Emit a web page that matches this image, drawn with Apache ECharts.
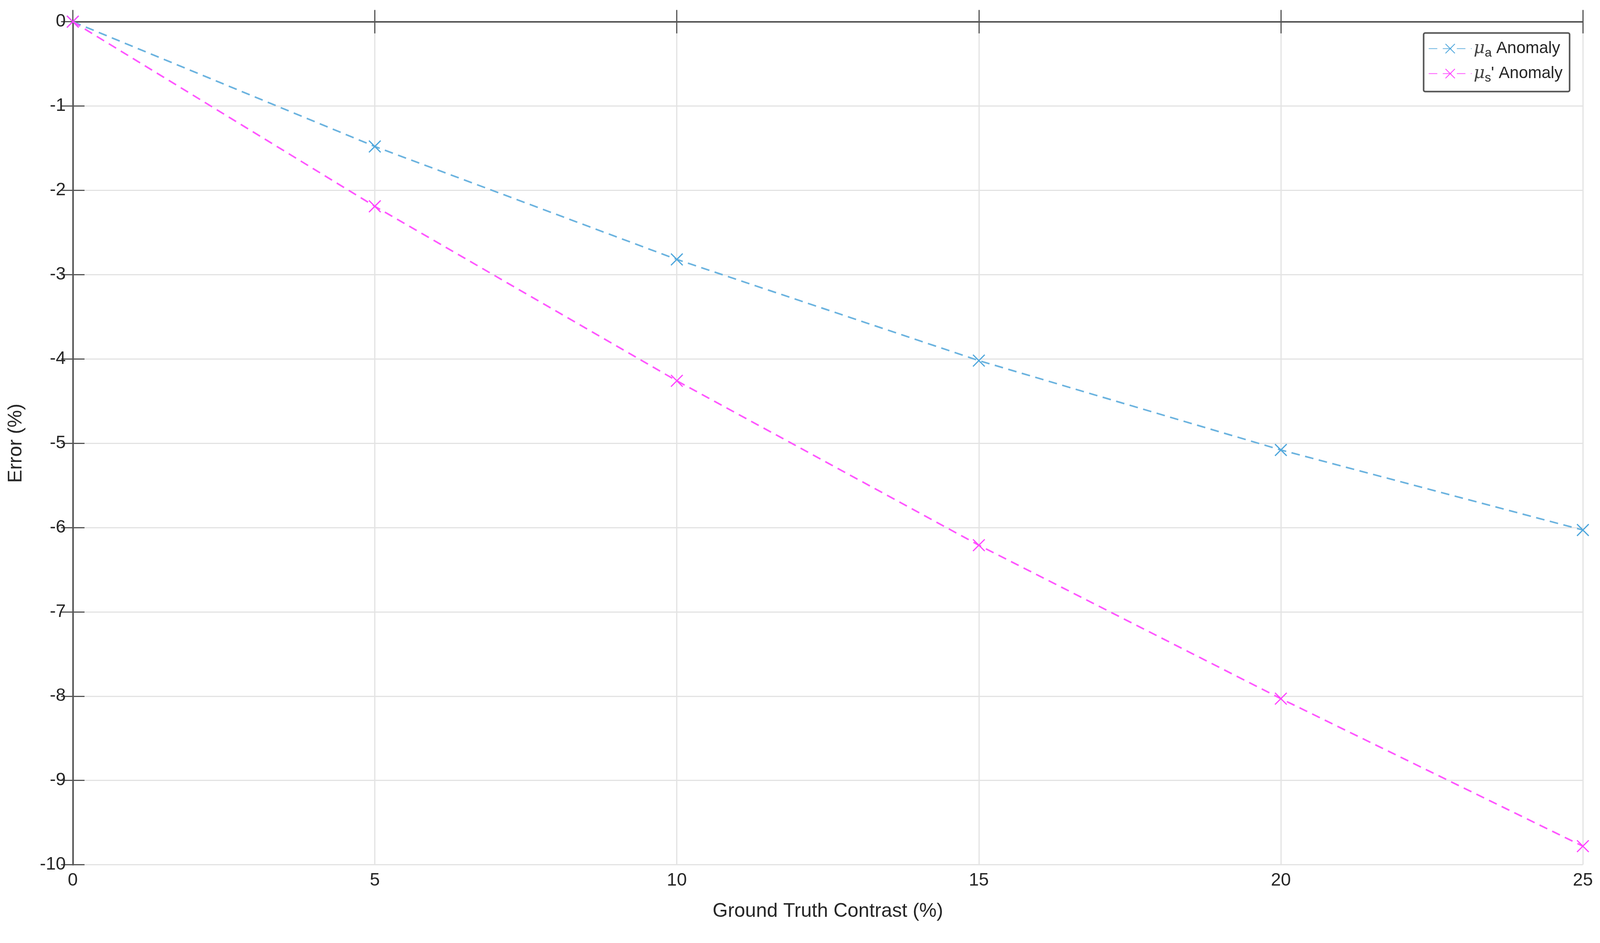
<!DOCTYPE html>
<html><head><meta charset="utf-8">
<script src="https://cdn.jsdelivr.net/npm/echarts@6/dist/echarts.min.js"></script>
<style>html,body{margin:0;padding:0;background:#fff;overflow:hidden}#c{width:100vw;height:100vh}</style>
</head><body><div id="c"></div>
<script>
var contrast = [0, 5, 10, 15, 20, 25];
var muA = [0, -1.48, -2.82, -4.02, -5.08, -6.03];
var muS = [0, -2.19, -4.26, -6.21, -8.03, -9.78];

var chart = echarts.init(document.getElementById('c'));
var FONT = 'Liberation Sans, Arial, sans-serif';
var grey = '#262626';
function pairs(ys) { return contrast.map(function (x, i) { return [x, ys[i]]; }); }

function axisBase(extra) {
  var a = {
    type: 'value',
    axisLine: { show: true, lineStyle: { color: '#555', width: 4 } },
    axisTick: { show: true, inside: true, length: 30, lineStyle: { color: '#555', width: 3 } },
    splitLine: { show: true, lineStyle: { color: '#e3e3e3', width: 3 } },
    axisLabel: { fontSize: 46, color: grey, fontFamily: FONT, margin: 18 },
    nameTextStyle: { fontSize: 50, color: grey, fontFamily: FONT }
  };
  for (var k in extra) a[k] = extra[k];
  return a;
}

chart.setOption({
  backgroundColor: '#fff',
  animation: false,
  grid: { left: '4.55%', right: '1.07%', top: '2.3%', bottom: '8.3%' },
  xAxis: [
    axisBase({ min: 0, max: 25, interval: 5, name: 'Ground Truth Contrast (%)',
      nameLocation: 'middle', nameGap: 95 }),
    axisBase({ min: 0, max: 25, interval: 5, position: 'top', axisLabel: { show: false }, splitLine: { show: false } })
  ],
  yAxis: [
    axisBase({ min: -10, max: 0, interval: 1, name: 'Error (%)',
      nameLocation: 'middle', nameGap: 120 }),
    axisBase({ min: -10, max: 0, interval: 1, position: 'right', axisLabel: { show: false }, splitLine: { show: false } })
  ],
  legend: {
    right: '1.9%', top: '3.5%', orient: 'vertical',
    backgroundColor: '#fff', borderColor: '#555', borderWidth: 4, borderRadius: 4,
    padding: [18, 18, 18, 12], itemGap: 14, itemWidth: 110, itemHeight: 30,
    textStyle: { fontSize: 42, color: grey, fontFamily: FONT,
      rich: {
        mu: { fontSize: 44, fontStyle: 'italic', fontFamily: 'DejaVu Serif', color: '#444' },
        sub: { fontSize: 32, verticalAlign: 'bottom', padding: [24, 0, 0, 0], color: grey },
        t: { fontSize: 42, color: grey }
      }
    },
    formatter: function (n) {
      return n === 'a' ? '{mu|\u03bc}{sub|a}{t| Anomaly}' : '{mu|\u03bc}{sub|s}{t|\' Anomaly}';
    },
    data: ['a', 's']
  },
  series: [
    { name: 'a', type: 'line', data: pairs(muA), symbol: 'path://M0,0L10,10M10,0L0,10', symbolSize: 30,
      itemStyle: { color: '#4da6dc', borderColor: '#4da6dc', borderWidth: 3 },
      lineStyle: { color: '#6bb3df', width: 4, type: [22, 14] } },
    { name: 's', type: 'line', data: pairs(muS), symbol: 'path://M0,0L10,10M10,0L0,10', symbolSize: 30,
      itemStyle: { color: '#ff40ff', borderColor: '#ff40ff', borderWidth: 3 },
      lineStyle: { color: '#ff55ff', width: 4, type: [22, 14] } }
  ]
});
</script></body></html>
